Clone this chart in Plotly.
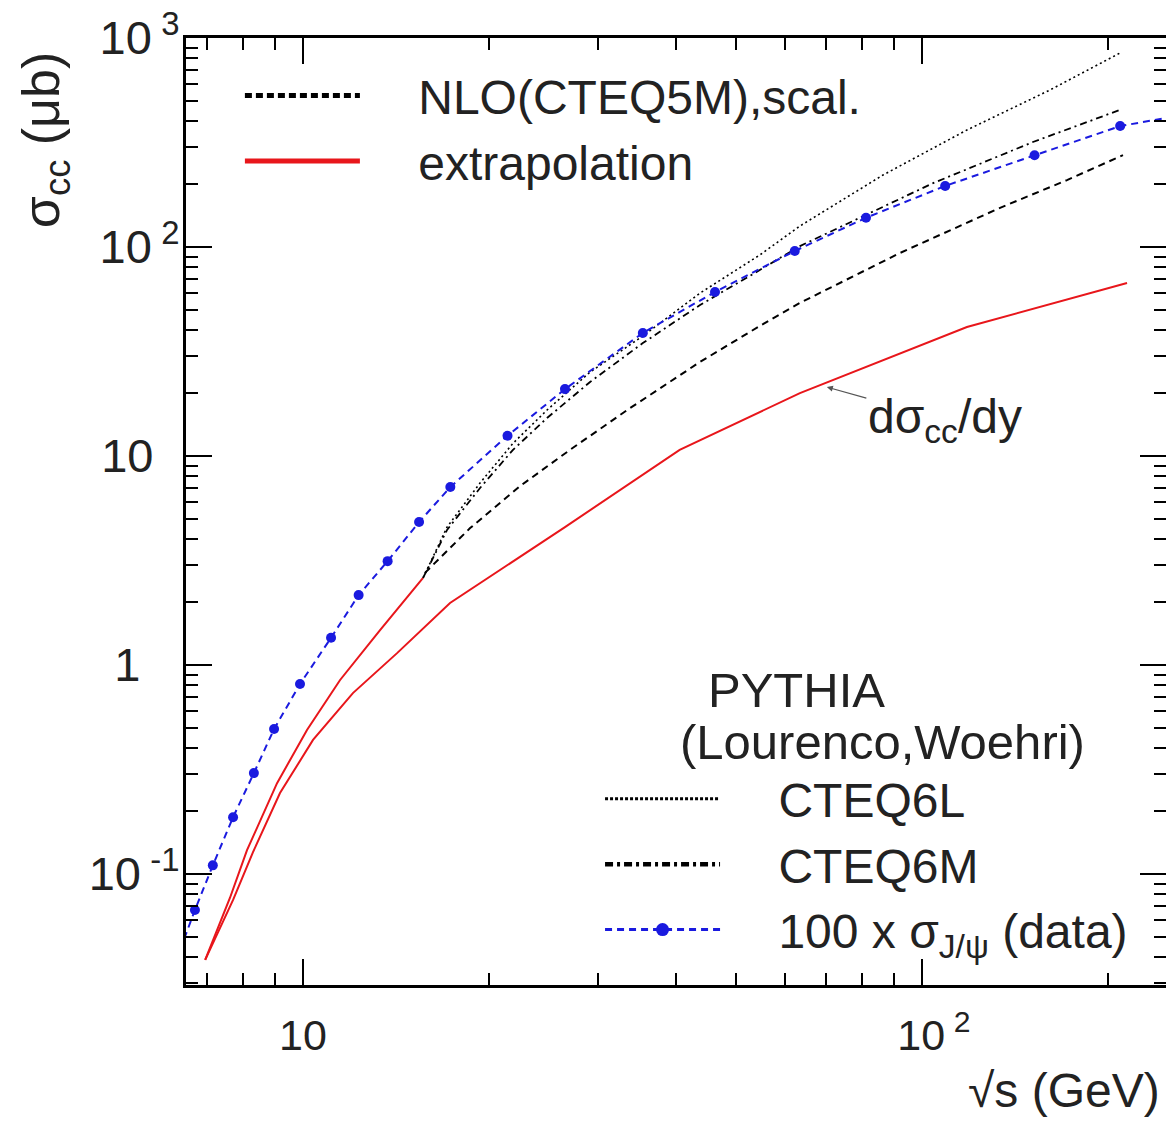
import plotly.graph_objects as go

# ---- data ----
jpsi_x = [6.33, 6.69, 7.15, 7.71, 8.33, 8.98, 9.89, 11.1, 12.3, 13.7, 15.4, 17.3,
          21.4, 26.5, 35.4, 46.3, 62.3, 81.2, 109, 152, 209, 281]
jpsi_y = [0.0433, 0.0673, 0.110, 0.187, 0.304, 0.494, 0.811, 1.35, 2.16, 3.14, 4.83, 7.11,
          12.5, 20.9, 38.8, 60.9, 95.7, 138, 196, 275, 379, 442]

extrap_x = [6.95, 7.62, 8.12, 9.08, 10.15, 11.48, 13.32, 15.63]
extrap_y = [0.0388, 0.0768, 0.130, 0.272, 0.489, 0.848, 1.47, 2.61]

dsdy_x = [6.95, 7.71, 8.30, 9.18, 10.38, 12.04, 14.19, 17.28, 26.5, 40.6, 63.5, 118.2, 214.4]
dsdy_y = [0.0388, 0.0752, 0.127, 0.244, 0.438, 0.734, 1.14, 1.98, 4.57, 10.7, 20.0, 41.4, 67.3]

nlo_x = [15.74, 18.62, 22.42, 27.0, 33.4, 43.8, 54.7, 63.5, 92.1, 133.7, 171.5, 211.2]
nlo_y = [2.76, 4.52, 7.18, 10.7, 16.6, 28.2, 41.9, 54.0, 93.6, 154, 209, 275]

c6l_x = [15.63, 17.09, 19.32, 21.84, 24.79, 29.09, 35.4, 43.8, 54.7, 63.5, 86.5, 118.2, 161, 208.9]
c6l_y = [2.61, 4.57, 7.43, 11.5, 16.6, 25.2, 37.5, 60.2, 91.6, 126, 221, 363, 564, 848]

c6m_x = [15.63, 17.09, 19.32, 21.84, 24.79, 29.09, 35.4, 43.8, 54.7, 63.5, 104.2, 151.1, 208.9]
c6m_y = [2.61, 4.43, 7.03, 10.7, 15.2, 22.6, 34.7, 52.8, 77.6, 101, 202, 318, 453]

NB = "\u00a0"
TS = "\u2009"
x_tickvals = [10, 100]
x_ticktext = ["10", NB * 2 + "10" + TS + "<sup>2</sup>"]
y_tickvals = [0.1, 1, 10, 100, 1000]
y_ticktext = ["10" + TS + "<sup>-1</sup>", "1" + NB * 3, "10" + NB * 2,
              "10" + TS + "<sup>2</sup>", "10" + TS + "<sup>3</sup>"]

x_minor = [m * d for d in (1, 10, 100) for m in range(2, 10)]
y_minor = [m * d for d in (0.01, 0.1, 1, 10, 100) for m in range(2, 10)]

FONT = "Liberation Sans, Arial, sans-serif"
TXT = "#222"
GAP = NB * 4
RED = "#e8161b"
BLUE = "#1a1adf"

fig = go.Figure()

# curves (legend entries are drawn with thicker sample strokes below)
fig.add_trace(go.Scatter(x=nlo_x, y=nlo_y, mode="lines", name="NLO(CTEQ5M),scal.",
                         showlegend=False, line=dict(color="black", width=2, dash="7px,5px")))
fig.add_trace(go.Scatter(x=extrap_x, y=extrap_y, mode="lines", name="extrapolation",
                         showlegend=False, line=dict(color=RED, width=2)))
fig.add_trace(go.Scatter(x=dsdy_x, y=dsdy_y, mode="lines", name="dσcc/dy",
                         showlegend=False, line=dict(color=RED, width=2)))
fig.add_trace(go.Scatter(x=c6l_x, y=c6l_y, mode="lines", name="CTEQ6L",
                         showlegend=False, line=dict(color="black", width=1.6, dash="2px,3px")))
fig.add_trace(go.Scatter(x=c6m_x, y=c6m_y, mode="lines", name="CTEQ6M",
                         showlegend=False,
                         line=dict(color="black", width=1.8, dash="7px,4px,2px,4px")))
fig.add_trace(go.Scatter(x=jpsi_x, y=jpsi_y, mode="lines+markers", name="100 x σJ/ψ (data)",
                         showlegend=False,
                         line=dict(color=BLUE, width=2, dash="7px,5px"),
                         marker=dict(color=BLUE, size=10)))

# legend entries
fig.add_trace(go.Scatter(x=[None], y=[None], mode="lines", name=GAP + "NLO(CTEQ5M),scal.",
                         line=dict(color="black", width=5, dash="7px,4px"), legend="legend"))
fig.add_trace(go.Scatter(x=[None], y=[None], mode="lines", name=GAP + "extrapolation",
                         line=dict(color=RED, width=5), legend="legend"))
fig.add_trace(go.Scatter(x=[None], y=[None], mode="lines", name=GAP + "CTEQ6L",
                         line=dict(color="black", width=3, dash="3px,2px"), legend="legend2"))
fig.add_trace(go.Scatter(x=[None], y=[None], mode="lines", name=GAP + "CTEQ6M",
                         line=dict(color="black", width=4.5, dash="8px,4px,3px,4px"),
                         legend="legend2"))
fig.add_trace(go.Scatter(x=[None], y=[None], mode="lines+markers",
                         name=GAP + "100 x σ<sub>J/ψ</sub> (data)",
                         line=dict(color=BLUE, width=3, dash="7px,5px"),
                         marker=dict(color=BLUE, size=13), legend="legend2"))

axis_common = dict(type="log", showgrid=False, zeroline=False, showline=True,
                   linecolor="black", linewidth=3, mirror="allticks", automargin=False,
                   ticks="inside", ticklen=26, tickwidth=2, tickcolor="black")

fig.update_xaxes(**axis_common, range=[0.811, 2.3942],
                 tickmode="array", tickvals=x_tickvals, ticktext=x_ticktext,
                 ticklabelstandoff=10,
                 tickfont=dict(family=FONT, size=43, color=TXT),
                 minor=dict(tickmode="array", tickvals=x_minor, ticks="inside",
                            ticklen=12, tickwidth=2, tickcolor="black", showgrid=False))
fig.update_yaxes(**axis_common, range=[-1.531, 3],
                 tickmode="array", tickvals=y_tickvals, ticktext=y_ticktext,
                 ticklabelstandoff=-6,
                 tickfont=dict(family=FONT, size=47, color=TXT),
                 minor=dict(tickmode="array", tickvals=y_minor, ticks="inside",
                            ticklen=12, tickwidth=2, tickcolor="black", showgrid=False))

fig.add_annotation(x=1.8463, y=1.330, xref="x", yref="y",
                   text="dσ<sub>cc</sub>/dy", showarrow=True, arrowhead=2, arrowsize=1,
                   arrowwidth=1.2, arrowcolor="#555", ax=118, ay=33, standoff=0,
                   font=dict(family=FONT, size=48, color=TXT))
fig.add_annotation(x=-0.144, y=0.892, xref="paper", yref="paper", text="σ<sub>cc</sub> (μb)",
                   textangle=-90, showarrow=False,
                   xanchor="center", yanchor="middle",
                   font=dict(family=FONT, size=52, color=TXT))
fig.add_annotation(x=0.996, y=-0.111, xref="paper", yref="paper", text="√s (GeV)",
                   showarrow=False, xanchor="right", yanchor="middle",
                   font=dict(family=FONT, size=48, color=TXT))
fig.add_annotation(x=0.623, y=0.311, xref="paper", yref="paper",
                   text="PYTHIA", showarrow=False, xanchor="center", yanchor="middle",
                   font=dict(family=FONT, size=49, color=TXT))
fig.add_annotation(x=0.711, y=0.2565, xref="paper", yref="paper",
                   text="(Lourenco,Woehri)", showarrow=False, xanchor="center", yanchor="middle",
                   font=dict(family=FONT, size=49, color=TXT))

fig.update_layout(
    width=1166, height=1122,
    margin=dict(l=186, r=0, t=38, b=137),
    paper_bgcolor="white", plot_bgcolor="white",
    font=dict(family=FONT, size=48, color=TXT),
    legend=dict(x=0.055, y=0.979, xanchor="left", yanchor="top",
                bgcolor="rgba(0,0,0,0)", itemwidth=115,
                font=dict(family=FONT, size=48, color=TXT)),
    legend2=dict(x=0.4225, y=0.2365, xanchor="left", yanchor="top",
                 bgcolor="rgba(0,0,0,0)", itemwidth=115,
                 font=dict(family=FONT, size=48, color=TXT)),
)

fig.write_html("out.html", config={"displayModeBar": False},
               post_script="document.body.style.margin='0';document.body.style.overflow='hidden';")
